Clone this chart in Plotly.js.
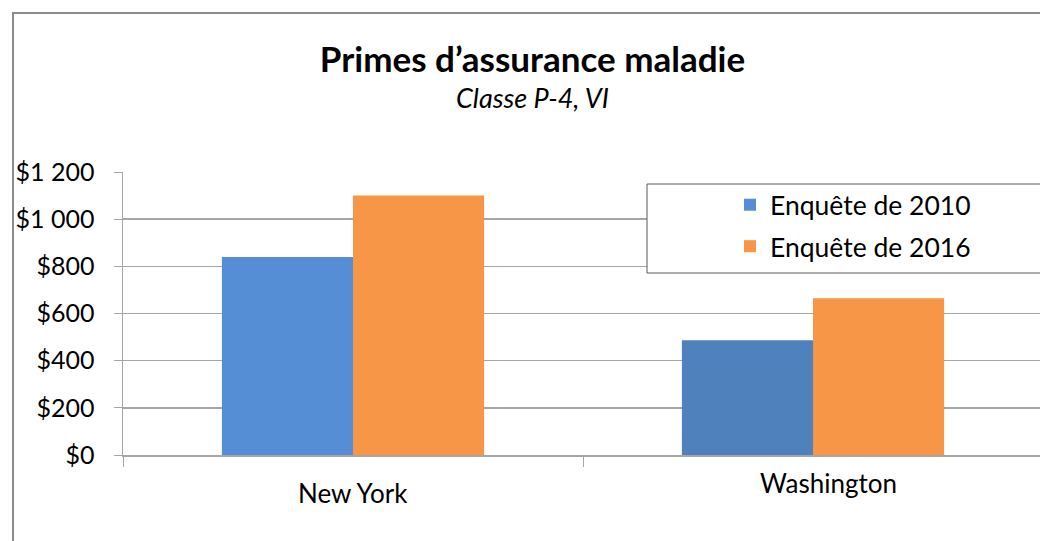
<!DOCTYPE html>
<html>
<head>
<meta charset="utf-8">
<script src="https://cdn.plot.ly/plotly-3.0.1.min.js"></script>
<style>
  html, body { margin: 0; padding: 0; background: #fff; overflow: hidden; }
  #chart { width: 1046px; height: 541px; }
</style>
</head>
<body>
<div id="chart"></div>
<script>
// ---- data ----
const categories = ["New York", "Washington"];
const series2010 = [840, 487];
const series2016 = [1100, 665];
const seriesNames = ["Enquête de 2010", "Enquête de 2016"];
const yTickVals = [0, 200, 400, 600, 800, 1000, 1200];
const yTickText = ["$0", "$200", "$400", "$600", "$800", "$1 000", "$1 200"];
const titleText = "Primes d’assurance maladie";
const subtitleText = "Classe P-4, VI";

// ---- styles ----
const FONT = "Lato, 'Open Sans', sans-serif";
const colors2010 = ["#558ED5", "#4F81BD"];
const color2016 = "#F79646";
const gridColor = "#A6A6A6";

const traces = [
  {
    type: "bar", name: seriesNames[0], x: categories, y: series2010,
    marker: { color: colors2010 }, legendgroup: "a", hoverinfo: "x+y"
  },
  {
    type: "bar", name: seriesNames[1], x: categories, y: series2016,
    marker: { color: color2016 }, legendgroup: "b", hoverinfo: "x+y"
  }
];

// plot area geometry: x 123..1043, y 172..455
const pw = 920, ph = 283;
const px = v => (v - 123) / pw;
const py = v => (455 - v) / ph;

// category labels as annotations (slightly offset like the reference)
const labelShifts = [{ dx: 0, dy: -38 }, { dx: 15, dy: -28 }];
const annotations = categories.map((c, i) => ({
  x: c, xref: "x", y: 0, yref: "paper", yanchor: "middle",
  xshift: labelShifts[i].dx, yshift: labelShifts[i].dy,
  text: c, showarrow: false, font: { family: FONT, size: 26, color: "#000" }
}));
annotations.push({
  x: px(532.5), xref: "paper", xanchor: "center", y: py(98), yref: "paper", yanchor: "middle",
  text: "<i>" + subtitleText + "</i>", showarrow: false,
  font: { family: FONT, size: 27, color: "#000" }
});

const shapes = [
  // outer chart border (left and top)
  { type: "line", xref: "paper", yref: "paper", x0: px(13), x1: px(13), y0: py(12), y1: py(560),
    line: { color: "#8C8C8C", width: 2 } },
  { type: "line", xref: "paper", yref: "paper", x0: px(12), x1: px(1060), y0: py(13), y1: py(13),
    line: { color: "#8C8C8C", width: 2 } },
  // legend box
  { type: "rect", xref: "paper", yref: "paper", x0: px(647), x1: px(1070), y0: py(273), y1: py(184),
    line: { color: "#595959", width: 1 }, fillcolor: "#FFFFFF", layer: "above" }
];

const layout = {
  width: 1046, height: 541,
  margin: { l: 123, r: 3, t: 172, b: 86, pad: 0 },
  paper_bgcolor: "#FFFFFF", plot_bgcolor: "#FFFFFF",
  font: { family: FONT, color: "#000" },
  title: {
    text: "<b>" + titleText + "</b>",
    font: { family: FONT, size: 35, color: "#000" },
    x: px(532.5), xanchor: "center", xref: "paper",
    y: 1 - 60 / 541, yanchor: "middle", yref: "container"
  },
  barmode: "group",
  bargap: 0.43,
  bargroupgap: 0,
  showlegend: true,
  legend: {
    x: px(730), xanchor: "left", y: py(181), yanchor: "top",
    bgcolor: "rgba(0,0,0,0)", borderwidth: 0,
    font: { family: FONT, size: 26.5, color: "#000" },
    traceorder: "grouped", tracegroupgap: 4
  },
  xaxis: {
    type: "category",
    showticklabels: false,
    ticks: "outside", tickson: "boundaries", ticklen: 10, tickcolor: gridColor, tickwidth: 1,
    showline: true, linecolor: gridColor, linewidth: 1.5,
    showgrid: false, zeroline: false, fixedrange: true
  },
  yaxis: {
    range: [0, 1200],
    tickvals: yTickVals, ticktext: yTickText,
    ticks: "outside", ticklen: 8, tickcolor: gridColor, tickwidth: 1,
    ticklabelstandoff: 14,
    tickfont: { family: FONT, size: 25, color: "#000" },
    showline: true, linecolor: gridColor, linewidth: 1.5,
    showgrid: true, gridcolor: gridColor, gridwidth: 1.5,
    zeroline: false, fixedrange: true
  },
  shapes: shapes,
  annotations: annotations
};

Plotly.newPlot("chart", traces, layout, { displayModeBar: false, staticPlot: true });
</script>
</body>
</html>
